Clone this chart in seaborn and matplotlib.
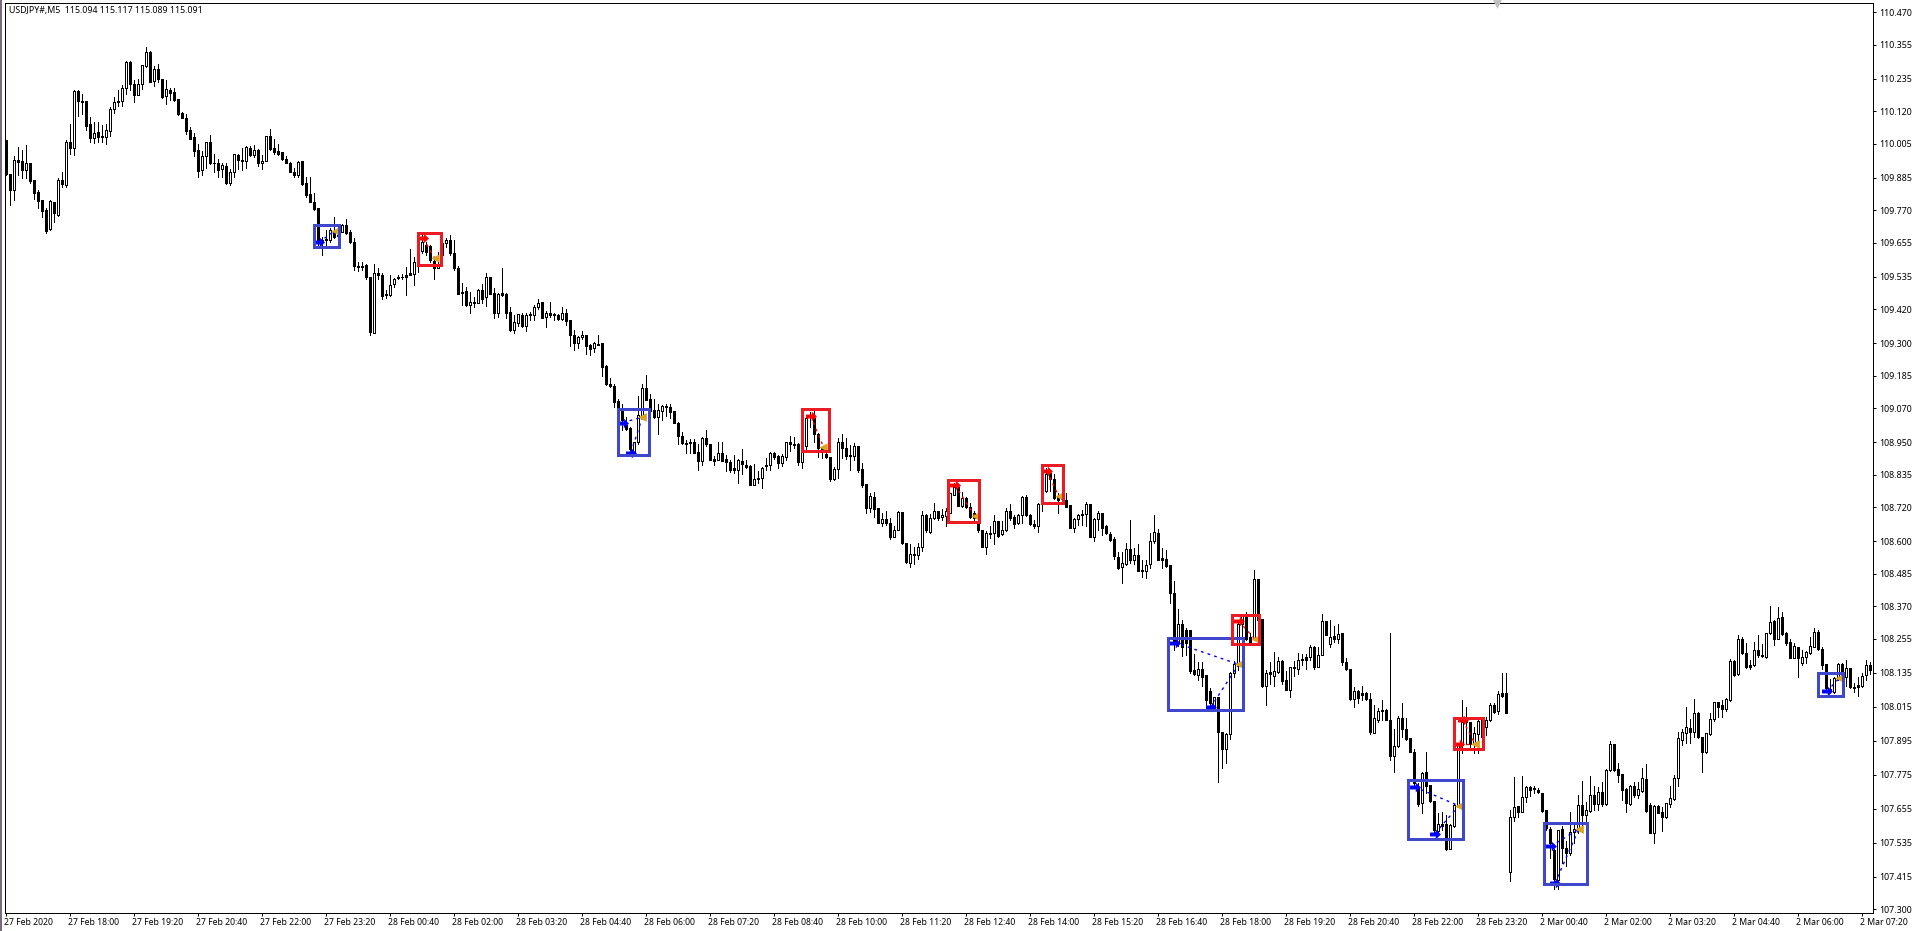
import matplotlib
matplotlib.use("Agg")
import matplotlib.pyplot as plt
from matplotlib.patches import Rectangle
from matplotlib.path import Path
from matplotlib.transforms import ScaledTranslation
import numpy as np
import pandas as pd
import seaborn as sns

opens = [
110.017,109.899,109.840,109.947,109.943,109.911,109.938,109.876,109.835,109.805,109.770,109.702,109.797,109.752,109.875,109.858,110.009,109.990,110.190,110.156,
110.155,110.073,110.025,110.047,110.031,110.029,110.050,110.127,110.156,110.156,110.200,110.293,110.217,110.177,110.217,110.280,110.329,110.226,110.270,110.233,
110.174,110.194,110.187,110.162,110.114,110.097,110.053,110.027,109.982,109.911,109.962,110.009,109.938,109.938,109.914,109.925,109.864,109.903,109.964,109.947,
109.944,109.991,109.964,109.982,109.937,109.944,110.031,109.988,109.980,109.974,109.952,109.938,109.904,109.894,109.945,109.864,109.826,109.799,109.776,109.664,
109.669,109.666,109.697,109.681,109.691,109.719,109.692,109.659,109.573,109.573,109.575,109.532,109.336,109.546,109.540,109.475,109.469,109.508,109.534,109.535,
109.539,109.546,109.544,109.587,109.626,109.645,109.643,109.591,109.567,109.652,109.652,109.664,109.617,109.566,109.481,109.484,109.436,109.440,109.442,109.489,
109.463,109.532,109.478,109.407,109.478,109.475,109.409,109.346,109.372,109.401,109.361,109.402,109.399,109.428,109.445,109.393,109.407,109.404,109.400,109.384,
109.408,109.381,109.330,109.301,109.322,109.330,109.293,109.281,109.298,109.300,109.218,109.155,109.150,109.095,109.072,109.010,108.999,108.916,108.949,109.043,
109.143,109.103,109.063,109.039,109.060,109.078,109.076,109.059,109.019,108.973,108.947,108.951,108.952,108.914,108.884,108.966,108.942,108.889,108.886,108.910,
108.889,108.880,108.857,108.853,108.885,108.871,108.865,108.800,108.825,108.825,108.871,108.871,108.913,108.901,108.878,108.899,108.952,108.943,108.943,108.881,
108.938,109.046,109.035,108.978,108.929,108.908,108.897,108.820,108.855,108.950,108.929,108.904,108.901,108.937,108.854,108.802,108.716,108.755,108.716,108.663,
108.678,108.663,108.616,108.640,108.702,108.593,108.524,108.554,108.552,108.581,108.693,108.634,108.681,108.707,108.685,108.689,108.701,108.764,108.790,108.725,
108.752,108.720,108.699,108.663,108.640,108.581,108.626,108.630,108.672,108.626,108.640,108.707,108.685,108.663,108.692,108.757,108.693,108.661,108.652,108.732,
108.778,108.840,108.821,108.758,108.764,108.746,108.727,108.648,108.678,108.692,108.695,108.732,108.614,108.678,108.699,108.652,108.626,108.608,108.543,108.508,
108.520,108.572,108.532,108.552,108.499,108.496,108.520,108.599,108.628,108.540,108.536,108.516,108.416,108.239,108.307,108.288,108.288,108.145,108.129,108.150,
108.127,108.070,108.009,108.048,107.927,107.864,107.918,108.135,108.162,108.307,108.335,108.260,108.256,108.465,108.324,108.089,108.138,108.123,108.139,108.178,
108.109,108.074,108.156,108.150,108.183,108.192,108.192,108.225,108.154,108.199,108.317,108.236,108.265,108.253,108.274,108.173,108.147,108.042,108.070,108.062,
108.062,108.044,107.924,107.968,108.003,108.003,107.970,107.841,107.877,107.977,107.938,107.903,107.856,107.732,107.676,107.783,107.737,107.682,107.577,107.599,
107.599,107.514,107.594,107.667,107.880,107.968,107.962,107.885,107.918,107.968,107.942,107.968,108.023,108.000,108.062,108.062,107.432,107.627,107.664,107.644,
107.695,107.733,107.727,107.721,107.709,107.650,107.582,107.509,107.403,107.582,107.515,107.497,107.571,107.582,107.668,107.632,107.648,107.703,107.671,107.715,
107.671,107.792,107.883,107.794,107.777,107.723,107.671,107.736,107.703,107.718,107.760,107.668,107.570,107.664,107.642,107.627,107.671,107.689,107.762,107.898,
107.923,107.939,107.927,107.994,107.907,107.856,107.919,107.971,108.031,108.020,108.006,108.039,108.177,108.131,108.256,108.204,108.163,108.163,108.216,108.199,
108.192,108.275,108.318,108.255,108.331,108.275,108.243,108.189,108.225,108.168,108.192,108.204,108.227,108.280,108.218,108.166,108.077,108.066,108.115,108.166,
108.121,108.151,108.086,108.091,108.088,108.127,108.161]

closes = [
109.897,109.840,109.947,109.941,109.911,109.938,109.872,109.829,109.802,109.767,109.696,109.802,109.758,109.876,109.861,110.009,109.990,110.190,110.156,110.151,
110.067,110.025,110.044,110.029,110.027,110.053,110.129,110.153,110.153,110.200,110.293,110.215,110.177,110.217,110.282,110.327,110.223,110.270,110.233,110.169,
110.197,110.185,110.159,110.109,110.097,110.050,110.023,109.980,109.908,109.962,110.009,109.935,109.935,109.911,109.929,109.864,109.903,109.967,109.947,109.944,
109.994,109.964,109.982,109.935,109.944,110.031,109.985,109.974,109.968,109.949,109.937,109.905,109.894,109.941,109.861,109.823,109.799,109.773,109.658,109.658,
109.664,109.699,109.676,109.678,109.717,109.690,109.657,109.572,109.570,109.570,109.534,109.340,109.546,109.540,109.467,109.469,109.507,109.528,109.531,109.532,
109.535,109.540,109.587,109.581,109.658,109.623,109.593,109.564,109.579,109.611,109.664,109.617,109.566,109.475,109.478,109.434,109.444,109.446,109.489,109.457,
109.532,109.475,109.407,109.475,109.469,109.407,109.346,109.373,109.402,109.361,109.401,109.400,109.428,109.442,109.390,109.408,109.399,109.400,109.384,109.408,
109.379,109.329,109.301,109.322,109.330,109.290,109.278,109.301,109.295,109.216,109.154,109.149,109.092,109.069,109.027,108.995,108.927,108.949,109.045,109.143,
109.098,109.060,109.039,109.063,109.077,109.075,109.057,109.019,108.972,108.946,108.944,108.947,108.912,108.884,108.966,108.943,108.886,108.884,108.910,108.884,
108.880,108.853,108.853,108.886,108.874,108.863,108.799,108.821,108.821,108.860,108.866,108.913,108.896,108.878,108.901,108.950,108.943,108.940,108.881,108.940,
109.035,109.040,108.978,108.929,108.917,108.897,108.820,108.855,108.950,108.929,108.901,108.901,108.937,108.852,108.799,108.716,108.758,108.714,108.666,108.678,
108.663,108.616,108.640,108.702,108.593,108.528,108.554,108.550,108.581,108.693,108.638,108.681,108.708,108.681,108.691,108.707,108.769,108.791,108.725,108.754,
108.720,108.685,108.681,108.638,108.581,108.628,108.630,108.672,108.620,108.640,108.707,108.681,108.662,108.692,108.757,108.691,108.660,108.652,108.732,108.740,
108.838,108.820,108.752,108.746,108.748,108.722,108.648,108.678,108.693,108.696,108.732,108.616,108.678,108.699,108.646,108.628,108.605,108.546,108.504,108.522,
108.572,108.534,108.552,108.496,108.493,108.516,108.600,108.632,108.534,108.532,108.514,108.418,108.239,108.309,108.225,108.239,108.142,108.130,108.150,108.121,
108.039,108.027,108.048,107.927,107.864,107.918,108.135,108.166,108.309,108.335,108.256,108.245,108.465,108.321,108.089,108.135,108.130,108.142,108.178,108.107,
108.074,108.154,108.152,108.182,108.180,108.182,108.225,108.156,108.199,108.317,108.269,108.262,108.253,108.271,108.174,108.147,108.042,108.069,108.047,108.056,
108.042,107.927,107.974,108.000,107.999,107.970,107.841,107.877,107.977,107.935,107.900,107.856,107.744,107.673,107.782,107.735,107.682,107.579,107.599,107.593,
107.514,107.597,107.667,107.880,107.962,107.962,107.883,107.921,107.964,107.909,107.970,108.023,107.997,108.059,108.053,107.994,107.624,107.662,107.644,107.695,
107.733,107.721,107.723,107.713,107.647,107.585,107.532,107.406,107.580,107.515,107.497,107.574,107.582,107.668,107.632,107.650,107.703,107.671,107.713,107.671,
107.792,107.883,107.792,107.774,107.721,107.674,107.736,107.703,107.723,107.762,107.648,107.570,107.664,107.641,107.627,107.674,107.691,107.762,107.903,107.925,
107.942,107.927,107.992,107.907,107.856,107.921,107.971,108.031,108.015,108.006,108.042,108.177,108.127,108.253,108.204,108.157,108.157,108.216,108.197,108.196,
108.275,108.316,108.255,108.328,108.272,108.242,108.189,108.230,108.189,108.192,108.210,108.230,108.280,108.218,108.163,108.080,108.071,108.115,108.165,108.121,
108.151,108.084,108.083,108.086,108.125,108.161,108.145]

highs = [
110.017,109.899,109.961,109.994,109.984,110.000,109.938,109.876,109.840,109.805,109.776,109.805,109.799,109.882,109.903,110.017,110.076,110.196,110.194,110.182,
110.155,110.100,110.082,110.082,110.070,110.074,110.135,110.168,110.194,110.212,110.296,110.296,110.229,110.232,110.282,110.347,110.332,110.280,110.288,110.235,
110.229,110.203,110.200,110.164,110.117,110.111,110.062,110.043,110.005,109.980,110.009,110.037,109.970,109.949,109.935,109.938,109.914,109.970,109.968,109.988,
109.998,109.996,110.000,109.985,109.964,110.033,110.055,110.020,110.003,109.976,109.961,109.941,109.917,109.943,109.945,109.888,109.888,109.831,109.776,109.676,
109.699,109.705,109.746,109.693,109.720,109.737,109.699,109.670,109.587,109.585,109.581,109.532,109.581,109.564,109.546,109.487,109.542,109.531,109.540,109.544,
109.570,109.634,109.605,109.593,109.681,109.658,109.646,109.599,109.623,109.652,109.670,109.681,109.666,109.573,109.511,109.499,109.479,109.464,109.492,109.508,
109.546,109.532,109.493,109.478,109.567,109.478,109.428,109.399,109.404,109.408,109.407,109.410,109.434,109.457,109.446,109.413,109.446,109.408,109.404,109.426,
109.419,109.381,109.348,109.324,109.342,109.330,109.296,109.303,109.330,109.302,109.222,109.178,109.154,109.101,109.086,109.039,109.002,108.951,109.112,109.155,
109.187,109.119,109.101,109.086,109.081,109.086,109.086,109.060,109.022,108.985,108.959,108.960,108.962,108.943,108.969,108.992,108.943,108.900,108.949,108.951,
108.904,108.886,108.904,108.892,108.925,108.886,108.868,108.872,108.848,108.863,108.894,108.916,108.914,108.905,108.908,108.952,108.972,108.970,108.946,108.943,
109.040,109.058,109.064,108.982,108.934,108.929,108.899,108.861,108.964,108.978,108.964,108.940,108.946,108.937,108.876,108.802,108.772,108.775,108.716,108.699,
108.707,108.681,108.652,108.705,108.702,108.595,108.589,108.581,108.595,108.705,108.695,108.695,108.734,108.708,108.713,108.716,108.772,108.805,108.791,108.775,
108.755,108.734,108.705,108.669,108.640,108.636,108.652,108.693,108.672,108.673,108.716,108.732,108.693,108.696,108.760,108.764,108.695,108.675,108.736,108.740,
108.858,108.846,108.837,108.769,108.764,108.769,108.728,108.681,108.696,108.711,108.738,108.732,108.681,108.705,108.701,108.658,108.634,108.614,108.563,108.561,
108.593,108.675,108.575,108.590,108.532,108.534,108.628,108.693,108.642,108.575,108.569,108.516,108.459,108.360,108.321,108.295,108.288,108.203,108.174,108.174,
108.127,108.080,108.050,108.048,107.927,107.921,108.139,108.178,108.321,108.339,108.351,108.274,108.498,108.465,108.324,108.145,108.174,108.207,108.192,108.180,
108.142,108.156,108.178,108.206,108.203,108.201,108.233,108.229,108.227,108.342,108.318,108.321,108.301,108.307,108.277,108.189,108.147,108.086,108.074,108.088,
108.066,108.062,108.021,108.009,108.039,108.006,108.274,107.935,107.982,108.027,107.974,107.903,107.864,107.744,107.785,107.856,107.737,107.682,107.638,107.644,
107.632,107.599,107.670,107.885,108.039,108.015,107.962,107.944,107.974,107.980,107.980,108.030,108.027,108.072,108.133,108.136,107.650,107.766,107.664,107.770,
107.735,107.735,107.735,107.727,107.709,107.650,107.589,107.511,107.580,107.594,107.542,107.644,107.603,107.703,107.753,107.680,107.770,107.735,107.733,107.750,
107.794,107.895,107.883,107.817,107.777,107.727,107.739,107.750,107.750,107.797,107.813,107.674,107.667,107.667,107.662,107.676,107.735,107.774,107.925,107.936,
108.015,107.971,108.042,107.998,107.909,107.923,107.994,108.033,108.033,108.039,108.045,108.183,108.180,108.269,108.260,108.239,108.180,108.245,108.269,108.237,
108.277,108.371,108.322,108.366,108.349,108.280,108.253,108.239,108.227,108.216,108.213,108.260,108.292,108.286,108.227,108.166,108.113,108.119,108.168,108.168,
108.180,108.153,108.098,108.121,108.133,108.180,108.172]

lows = [
109.894,109.788,109.805,109.894,109.882,109.882,109.864,109.809,109.776,109.746,109.690,109.699,109.729,109.749,109.852,109.852,109.970,109.964,110.102,110.111,
110.053,110.011,110.008,110.011,110.011,110.003,110.031,110.114,110.137,110.139,110.180,110.196,110.153,110.176,110.199,110.276,110.223,110.209,110.223,110.167,
110.144,110.159,110.156,110.106,110.094,110.038,110.020,109.961,109.888,109.894,109.917,109.932,109.905,109.888,109.888,109.861,109.858,109.888,109.915,109.911,
109.919,109.961,109.958,109.927,109.915,109.943,109.982,109.970,109.964,109.947,109.935,109.903,109.888,109.888,109.858,109.817,109.798,109.770,109.646,109.611,
109.640,109.658,109.670,109.664,109.691,109.685,109.652,109.560,109.555,109.558,109.525,109.330,109.336,109.525,109.455,109.460,109.466,109.499,109.525,109.525,
109.469,109.540,109.505,109.552,109.617,109.611,109.587,109.526,109.566,109.611,109.640,109.613,109.560,109.473,109.434,109.431,109.405,109.428,109.440,109.442,
109.430,109.473,109.390,109.393,109.466,109.390,109.343,109.336,109.360,109.357,109.343,109.381,109.381,109.422,109.389,109.357,109.393,109.381,109.381,109.381,
109.363,109.290,109.275,109.281,109.316,109.261,109.257,109.269,109.293,109.183,109.151,109.145,109.075,109.063,108.992,108.992,108.916,108.912,108.945,109.042,
109.098,109.057,109.037,108.980,109.027,109.042,109.037,109.018,108.945,108.945,108.912,108.912,108.910,108.853,108.868,108.936,108.886,108.868,108.886,108.883,
108.848,108.845,108.841,108.806,108.839,108.857,108.798,108.798,108.806,108.788,108.853,108.851,108.892,108.858,108.867,108.887,108.920,108.931,108.870,108.860,
108.923,109.005,108.952,108.896,108.893,108.893,108.811,108.817,108.822,108.893,108.891,108.852,108.887,108.843,108.790,108.699,108.702,108.687,108.663,108.654,
108.658,108.608,108.614,108.638,108.590,108.524,108.510,108.520,108.537,108.566,108.634,108.630,108.679,108.675,108.675,108.652,108.699,108.764,108.725,108.722,
108.716,108.681,108.675,108.634,108.581,108.555,108.610,108.590,108.616,108.622,108.636,108.675,108.646,108.660,108.663,108.689,108.658,108.648,108.634,108.708,
108.775,108.778,108.748,108.701,108.734,108.720,108.646,108.634,108.658,108.658,108.654,108.614,108.602,108.640,108.622,108.625,108.599,108.537,108.501,108.454,
108.516,108.522,108.520,108.493,108.475,108.471,108.504,108.595,108.532,108.504,108.510,108.381,108.215,108.229,108.195,108.198,108.135,108.127,108.109,108.089,
108.007,108.021,108.003,107.750,107.799,107.817,107.901,108.121,108.145,108.251,108.251,108.239,108.251,108.315,108.086,108.021,108.097,108.089,108.135,108.095,
108.074,108.050,108.123,108.130,108.162,108.150,108.182,108.150,108.154,108.198,108.268,108.225,108.245,108.239,108.162,108.145,108.039,108.015,108.027,108.039,
108.039,107.918,107.921,107.962,107.968,107.968,107.826,107.785,107.874,107.909,107.897,107.856,107.738,107.664,107.638,107.709,107.679,107.567,107.561,107.579,
107.508,107.514,107.591,107.662,107.850,107.885,107.862,107.850,107.850,107.909,107.915,107.966,107.994,107.991,108.050,107.994,107.400,107.612,107.624,107.644,
107.680,107.700,107.709,107.709,107.642,107.580,107.479,107.370,107.370,107.462,107.453,107.491,107.532,107.568,107.591,107.580,107.644,107.650,107.650,107.664,
107.668,107.789,107.789,107.748,107.685,107.644,107.668,107.697,107.691,107.715,107.644,107.568,107.535,107.638,107.577,107.621,107.660,107.685,107.736,107.880,
107.886,107.886,107.909,107.903,107.786,107.853,107.915,107.966,107.980,107.980,108.001,108.037,108.125,108.127,108.201,108.151,108.147,108.159,108.192,108.190,
108.189,108.272,108.233,108.253,108.269,108.233,108.186,108.186,108.121,108.163,108.168,108.201,108.225,108.216,108.147,108.074,108.065,108.062,108.110,108.098,
108.088,108.080,108.068,108.053,108.086,108.110,108.131]

x_tick_labels = ["27 Feb 2020","27 Feb 18:00","27 Feb 19:20","27 Feb 20:40","27 Feb 22:00","27 Feb 23:20",
    "28 Feb 00:40","28 Feb 02:00","28 Feb 03:20","28 Feb 04:40","28 Feb 06:00","28 Feb 07:20","28 Feb 08:40",
    "28 Feb 10:00","28 Feb 11:20","28 Feb 12:40","28 Feb 14:00","28 Feb 15:20","28 Feb 16:40","28 Feb 18:00",
    "28 Feb 19:20","28 Feb 20:40","28 Feb 22:00","28 Feb 23:20","2 Mar 00:40","2 Mar 02:00","2 Mar 03:20",
    "2 Mar 04:40","2 Mar 06:00","2 Mar 07:20"]
y_ticks = [110.470,110.355,110.235,110.120,110.005,109.885,109.770,109.655,109.535,109.420,109.300,109.185,
    109.070,108.950,108.835,108.720,108.600,108.485,108.370,108.255,108.135,108.015,107.895,107.775,107.655,
    107.535,107.415,107.300]

# highlighted boxes (outer extent): first bar, last bar, top price, bottom price, side
box_start = [76.6,102.6,152.6,198.8,235.1,258.6,290.3,306.3,350.3,361.6,384.3,452.8]
box_end   = [83.8,109.1,161.1,206.1,243.6,264.8,309.6,313.8,364.8,369.8,395.8,459.8]
box_top   = [109.721,109.696,109.071,109.074,108.823,108.873,108.262,108.346,107.763,107.982,107.611,108.138]
box_bot   = [109.633,109.572,108.898,108.912,108.661,108.731,107.997,108.233,107.544,107.859,107.382,108.046]
box_side  = ["buy","sell","buy","sell","sell","sell","buy","sell","buy","sell","buy","buy"]

# trades: entry bar/price, exit bar/price, side
entry_bar   = [78.3,104.4,154.3,156.3,201.25,237.3,260.25,292.25,301.25,308.25,352.25,357.3,364.25,363.3,386.3,387.3,455.3]
entry_price = [109.656,109.670,109.019,108.913,109.043,108.799,108.848,108.242,108.013,108.318,107.732,107.567,107.968,107.885,107.522,107.391,108.069]
exit_bar    = [82.3,107.3,159.2,159.2,204.4,242.3,263.3,308.25,308.25,312.3,363.3,363.3,367.3,367.3,393.3,393.3,458.3]
exit_price  = [109.697,109.599,109.039,109.039,108.934,108.689,108.758,108.165,108.165,108.254,107.665,107.665,107.885,107.885,107.583,107.583,108.115]
trade_side  = ["buy","sell","buy","buy","sell","sell","sell","buy","buy","sell","buy","buy","sell","sell","buy","buy","buy"]

W, H = 1916, 931
sns.set_theme(style="white")
plt.rcParams["font.family"] = ["Noto Sans", "DejaVu Sans"]
fig = plt.figure(figsize=(W / 100, H / 100), dpi=100, facecolor="white")
ax = fig.add_axes([4.5 / W, 1 - 912.5 / H, 1868 / W, 910 / H])
px = 72 / 100

df = pd.DataFrame({"open": opens, "high": highs, "low": lows, "close": closes})
df["bar"] = np.arange(len(df))
df["up"] = df["close"] >= df["open"]
df["body_low"] = df[["open", "close"]].min(axis=1)
df["body_h"] = (df["close"] - df["open"]).abs()

ax.vlines(df["bar"], df["low"], df["high"], color="black", lw=px, antialiased=False, zorder=2)
ax.bar(df["bar"], df["body_h"], bottom=df["body_low"], width=0.5,
       color=np.where(df["up"], "white", "black"), edgecolor="black", linewidth=px,
       antialiased=False, zorder=3)

side_fill = {"buy": "#0000FF", "sell": "#FF0000"}
box_col = {"buy": "#3F48CC", "sell": "#ED1C24"}
arrow = Path([(-1, -.36), (.05, -.36), (.05, -.9), (1, 0), (.05, .9), (.05, .36), (-1, .36), (-1, -.36)], closed=True)

for a, b, c, d, s in zip(entry_bar, entry_price, exit_bar, exit_price, trade_side):
    sns.lineplot(x=[a, c], y=[b, d], ax=ax, color=side_fill[s], lw=1, linestyle=(0, (2, 3)),
                 sort=False, estimator=None, zorder=4)
    sns.scatterplot(x=[a], y=[b], ax=ax, marker=arrow, s=62, color=side_fill[s], linewidth=0, zorder=5)
sns.scatterplot(x=exit_bar, y=exit_price, ax=ax, marker="<", s=36, color="#DAA520", linewidth=0, zorder=5)

inset_x, inset_y = 1.5 / 4, 1.5 / 283
for s0, s1, t, b, side in zip(box_start, box_end, box_top, box_bot, box_side):
    ax.add_patch(Rectangle((s0 + inset_x, b + inset_y), s1 - s0 - 2 * inset_x, t - b - 2 * inset_y, fill=False,
                           edgecolor=box_col[side], lw=3 * px, zorder=6, joinstyle="miter"))

ax.scatter([372.8], [110.497], marker="v", s=40, color="#BDBDBD", linewidth=0, clip_on=False, zorder=7)

ax.set_xlim((4.5 - 5.67) / 4, (1872.5 - 5.67) / 4)
ax.set_ylim(110.47 - 900.5 / 283, 110.47 + 9.5 / 283)
ax.set_xlabel("")
ax.set_ylabel("")
ax.set_xticks(np.arange(len(x_tick_labels)) * 16)
ax.set_xticklabels(x_tick_labels, ha="left", fontsize=6.2, color="black")
ax.yaxis.tick_right()
ax.set_yticks(y_ticks)
ax.set_yticklabels([f"{v:.3f}" for v in y_ticks], fontsize=6.4, color="black")
ax.tick_params(axis="y", length=3 * px, width=px, color="black", pad=2.6, right=True, left=False)
ax.tick_params(axis="x", length=3 * px, width=px, color="black", pad=2, bottom=True)
for sp in ax.spines.values():
    sp.set_visible(True)
    sp.set_color("black")
    sp.set_linewidth(px)
shift = ScaledTranslation(-2 / 100, 0, fig.dpi_scale_trans)
for lab in ax.get_xticklabels():
    lab.set_clip_on(False)
    lab.set_transform(lab.get_transform() + shift)

ax.text(4.5 / 1868, 1 - 8 / 910, "USDJPY#,M5  115.094 115.117 115.089 115.091", transform=ax.transAxes,
        fontsize=6.33, color="black", ha="left", va="center", zorder=8)
fig.add_artist(Rectangle((0, 0), 2 / W, 1, transform=fig.transFigure, facecolor="#7B6A7E", edgecolor="none"))

fig.savefig("out.png", dpi=100, facecolor="white")
